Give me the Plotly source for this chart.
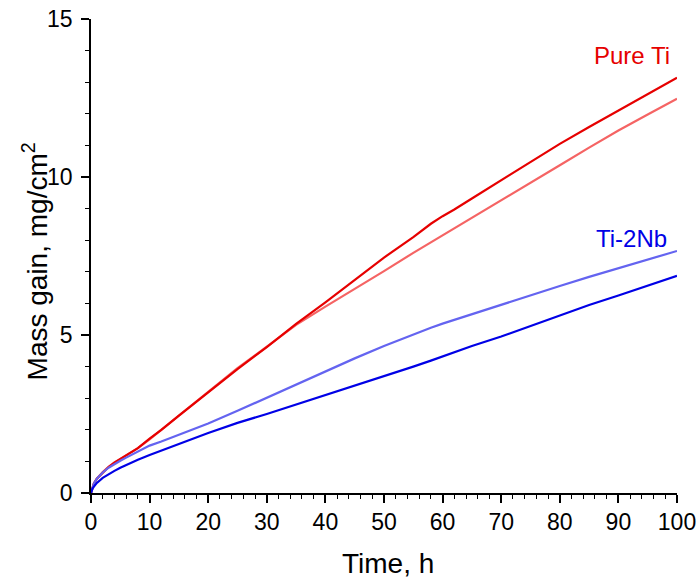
import plotly.graph_objects as go

time_h = [0, 0.25, 0.5, 1, 2, 3, 4, 5, 6, 7, 8, 10, 12, 15, 20, 25, 30, 35, 40, 45, 50, 55, 58, 60, 62, 65, 70, 75, 80, 85, 90, 95, 100]

pure_ti_1 = [0, 0.2, 0.3, 0.45, 0.65, 0.82, 0.96, 1.08, 1.2, 1.3, 1.42, 1.72, 2.0, 2.45, 3.2, 3.92, 4.62, 5.35, 6.03, 6.75, 7.45, 8.1, 8.52, 8.76, 8.97, 9.32, 9.9, 10.48, 11.05, 11.58, 12.1, 12.62, 13.14]
pure_ti_2 = [0, 0.2, 0.3, 0.45, 0.66, 0.83, 0.97, 1.08, 1.2, 1.3, 1.42, 1.7, 2.0, 2.45, 3.22, 3.95, 4.63, 5.32, 5.9, 6.45, 7.02, 7.6, 7.93, 8.15, 8.37, 8.7, 9.25, 9.8, 10.37, 10.93, 11.47, 11.98, 12.48]
ti2nb_1 = [0, 0.2, 0.3, 0.45, 0.65, 0.8, 0.92, 1.02, 1.12, 1.22, 1.3, 1.5, 1.63, 1.85, 2.2, 2.6, 3.02, 3.44, 3.85, 4.26, 4.65, 5.02, 5.23, 5.36, 5.48, 5.67, 5.97, 6.26, 6.55, 6.84, 7.12, 7.4, 7.66]
ti2nb_2 = [0, 0.14, 0.2, 0.32, 0.48, 0.6, 0.7, 0.8, 0.89, 0.98, 1.05, 1.2, 1.33, 1.55, 1.9, 2.22, 2.5, 2.8, 3.1, 3.38, 3.68, 4.0, 4.19, 4.32, 4.45, 4.65, 4.95, 5.28, 5.62, 5.95, 6.25, 6.57, 6.87]

x_ticks = list(range(0, 101, 10))
y_ticks = [0, 5, 10, 15]

FONT = "Liberation Sans, Arial, sans-serif"

fig = go.Figure()
series = [
    (pure_ti_2, "rgb(245,100,100)"),
    (pure_ti_1, "rgb(230,0,0)"),
    (ti2nb_1, "rgb(100,100,240)"),
    (ti2nb_2, "rgb(0,0,230)"),
]
for ys, col in series:
    fig.add_trace(go.Scatter(x=time_h, y=ys, mode="lines", line=dict(color=col, width=2.2),
                             showlegend=False))

fig.add_annotation(x=99.1, y=13.85, text="Pure Ti", showarrow=False, xanchor="right", yanchor="middle",
                   font=dict(family=FONT, size=24, color="rgb(230,0,0)"))
fig.add_annotation(x=98.6, y=8.05, text="Ti-2Nb", showarrow=False, xanchor="right", yanchor="middle",
                   font=dict(family=FONT, size=24, color="rgb(0,0,230)"))

# axis titles as annotations (paper coordinates)
fig.add_annotation(xref="paper", yref="paper", x=0.507, y=-0.1477, text="Time, h", showarrow=False,
                   xanchor="center", yanchor="middle", font=dict(family=FONT, size=28, color="black"))
fig.add_annotation(xref="paper", yref="paper", x=-0.096, y=0.488, text="Mass gain, mg/cm<sup>2</sup>",
                   showarrow=False, textangle=-90, xanchor="center", yanchor="middle",
                   font=dict(family=FONT, size=28, color="black"))

axis_common = dict(showline=True, linecolor="black", linewidth=1.5, ticks="outside", ticklen=8, tickwidth=1.5,
                   tickcolor="black", showgrid=False, zeroline=False, automargin=False,
                   tickfont=dict(family=FONT, size=23, color="black"))

fig.update_xaxes(range=[0, 100], tickvals=x_ticks,
                 minor=dict(dtick=2, ticklen=4, tickwidth=1.2, tickcolor="black", ticks="outside"), **axis_common)
fig.update_yaxes(range=[0, 15], tickvals=y_ticks, ticklabelstandoff=4,
                 minor=dict(dtick=1, ticklen=4, tickwidth=1.2, tickcolor="black", ticks="outside"), **axis_common)

fig.update_layout(width=698, height=580, margin=dict(l=91, r=21, t=19, b=87),
                  plot_bgcolor="white", paper_bgcolor="white")

fig.write_html("out.html", config={"displayModeBar": False},
               post_script="document.body.style.margin='0';document.body.style.overflow='hidden';")
